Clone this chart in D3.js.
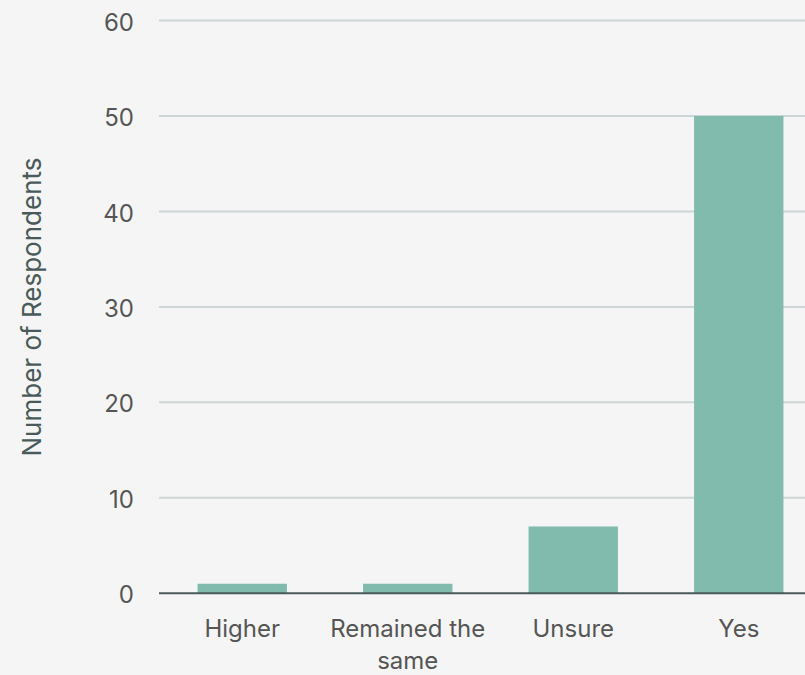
<!DOCTYPE html>
<html><head><meta charset="utf-8">
<script src="https://cdn.jsdelivr.net/npm/d3@7"></script>
<style>
html,body{margin:0;padding:0;background:#f5f5f5;}
svg{display:block;font-family:Inter,"Noto Sans",sans-serif;}
</style></head>
<body><svg id="c" width="805" height="675"></svg>
<script>
const categories = ["Higher", "Remained the same", "Unsure", "Yes"];
const values = [1, 1, 7, 50];
const yTicks = [0, 10, 20, 30, 40, 50, 60];
const yTitle = "Number of Respondents";

const svg = d3.select("#c");
svg.append("rect").attr("width",805).attr("height",675).attr("fill","#f5f5f5");
const x = d3.scaleBand().domain(categories).range([159.5, 821.5]).paddingInner(0.46).paddingOuter(0.23);
const y = d3.scaleLinear().domain([0,60]).range([593.3, 20.5]);

// gridlines
svg.append("g").selectAll("line").data(yTicks.filter(d=>d>0)).join("line")
  .attr("x1",159).attr("x2",805).attr("y1",d=>y(d)).attr("y2",d=>y(d))
  .attr("stroke","#cdd6d6").attr("stroke-width",2);

// y tick labels
const yAxis = d3.axisLeft(y).tickValues(yTicks).tickSize(0).tickPadding(0);
const ga = svg.append("g").attr("transform","translate(134,0)").call(yAxis);
ga.select(".domain").remove();
ga.selectAll("text").attr("font-size",24).attr("fill","#555").attr("font-family","Inter,'Noto Sans',sans-serif").attr("dy","0.4em");

// bars
svg.append("g").selectAll("rect").data(values).join("rect")
  .attr("x",(d,i)=>x(categories[i])).attr("width",x.bandwidth())
  .attr("y",d=>y(d)).attr("height",d=>y(0)-y(d))
  .attr("fill","#80bbad");

// baseline
svg.append("line").attr("x1",159).attr("x2",805).attr("y1",y(0)).attr("y2",y(0))
  .attr("stroke","#4a5a5a").attr("stroke-width",2);

// x labels
const wrap = {"Remained the same":["Remained the","same"]};
const xl = svg.append("g").selectAll("text").data(categories).join("text")
  .attr("x",d=>x(d)+x.bandwidth()/2).attr("y",637)
  .attr("text-anchor","middle").attr("font-size",24).attr("fill","#555");
xl.each(function(d){
  const lines = wrap[d] || [d];
  const t = d3.select(this);
  lines.forEach((l,i)=>t.append("tspan").attr("x",x(d)+x.bandwidth()/2).attr("dy",i?32:0).text(l));
});

// y title
svg.append("text").attr("transform","translate(41,307) rotate(-90)")
  .attr("text-anchor","middle").attr("font-size",26).attr("fill","#4a5a5a").text(yTitle);
</script></body></html>
